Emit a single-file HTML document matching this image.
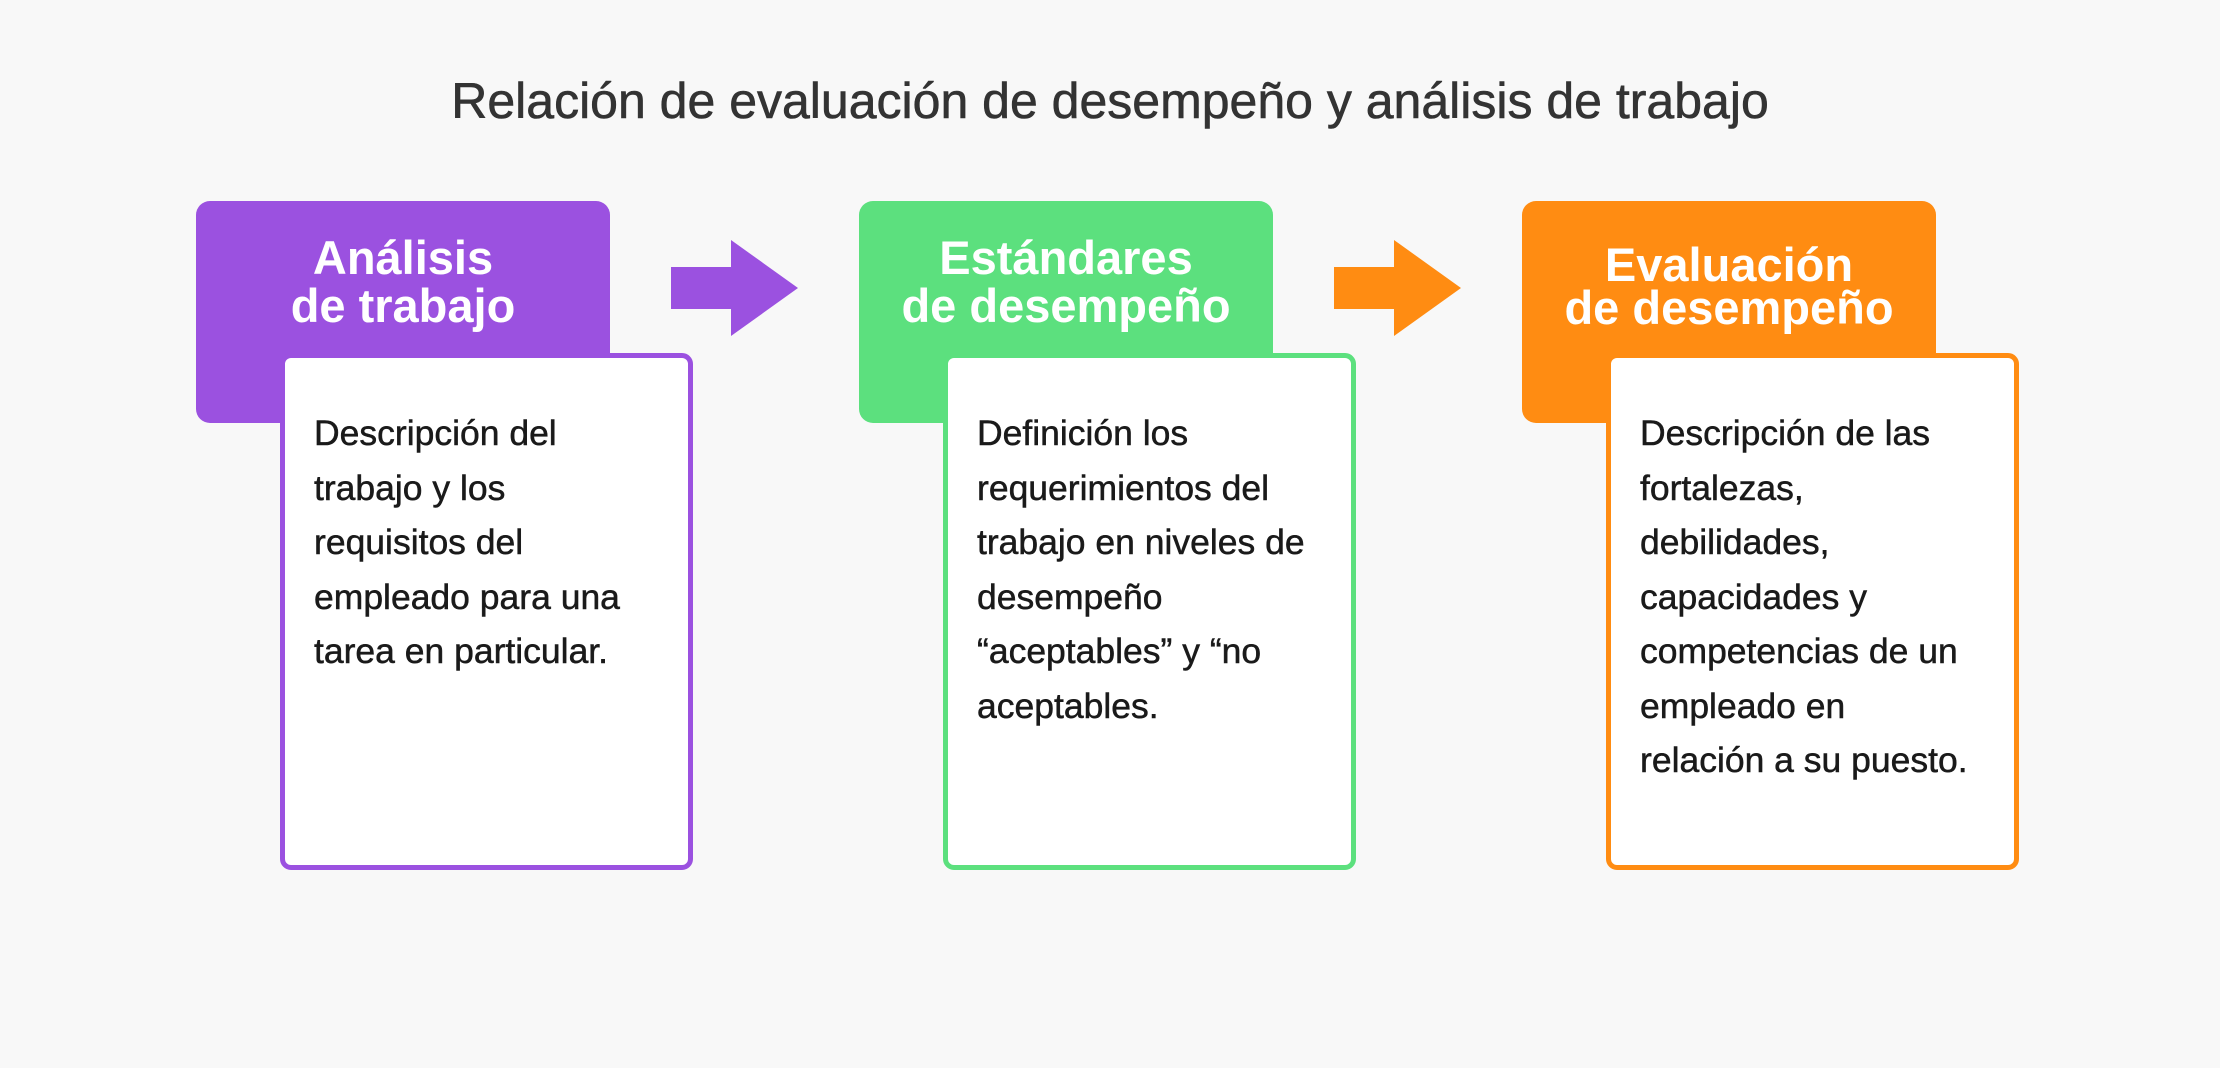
<!DOCTYPE html>
<html><head><meta charset="utf-8"><style>
body{margin:0;width:2220px;height:1068px;background:#f8f8f8;position:relative;overflow:hidden;font-family:"Liberation Sans",sans-serif}
.t{position:absolute;left:0;width:2220px;top:72px;text-align:center;font-size:50px;color:#333;-webkit-text-stroke:0.6px #333}
.h{position:absolute;top:201px;width:414px;height:222px;border-radius:14px;color:#fff;font-weight:bold;font-size:47px;line-height:48px;text-align:center;box-sizing:border-box;padding-top:33px}
.b{position:absolute;top:353px;width:413px;height:517px;background:#fff;border:5px solid;border-radius:11px;box-sizing:border-box;padding:48px 0 0 29px;font-size:35.5px;line-height:54.5px;color:#1a1a1a;-webkit-text-stroke:0.5px #1a1a1a;white-space:nowrap}
.a{position:absolute;top:240px}
</style></head><body>
<div class="t">Relación de evaluación de desempeño y análisis de trabajo</div>

<div class="h" style="left:196px;background:#9b51e0">Análisis<br>de trabajo</div>
<div class="b" style="left:280px;border-color:#9b51e0">Descripción del<br>trabajo y los<br>requisitos del<br>empleado para una<br>tarea en particular.</div>
<svg class="a" style="left:671px" width="130" height="100"><polygon points="0,27 60,27 60,0 127,48 60,96 60,69 0,69" fill="#9b51e0"/></svg>

<div class="h" style="left:859px;background:#5ce07e">Estándares<br>de desempeño</div>
<div class="b" style="left:943px;border-color:#5ce07e">Definición los<br>requerimientos del<br>trabajo en niveles de<br>desempeño<br>“aceptables” y “no<br>aceptables.</div>
<svg class="a" style="left:1334px" width="130" height="100"><polygon points="0,27 60,27 60,0 127,48 60,96 60,69 0,69" fill="#ff8c12"/></svg>

<div class="h" style="left:1522px;background:#ff8c12;padding-top:42px;line-height:43px">Evaluación<br>de desempeño</div>
<div class="b" style="left:1606px;border-color:#ff8c12">Descripción de las<br>fortalezas,<br>debilidades,<br>capacidades y<br>competencias de un<br>empleado en<br>relación a su puesto.</div>
</body></html>
